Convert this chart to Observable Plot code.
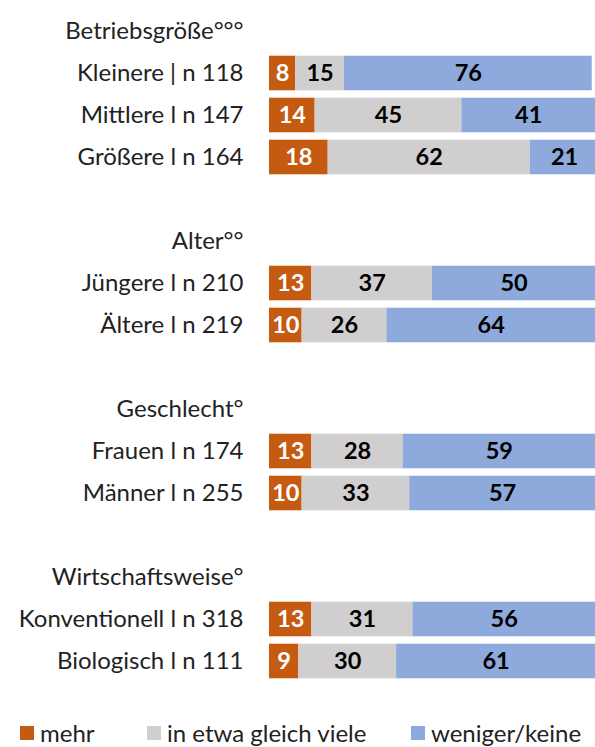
<!DOCTYPE html>
<html><head><meta charset="utf-8">
<script src="https://cdn.jsdelivr.net/npm/d3@7"></script>
<script src="https://cdn.jsdelivr.net/npm/@observablehq/plot@0.6"></script>
<style>
body{margin:0;background:#fff;font-family:Lato,"Open Sans",sans-serif;}
#wrap{position:relative;width:595px;height:747px;}
#legend{position:absolute;left:0;top:718px;width:595px;height:28px;font-size:24px;color:#222;}
#legend span.item{position:absolute;top:0;display:flex;align-items:center;white-space:nowrap;}
#legend span.sw{display:inline-block;width:14px;height:14px;margin-right:6px;}
</style></head>
<body><div id="wrap"><div id="chart"></div><div id="legend"></div></div>
<script>
const groupHeaders = ["Betriebsgröße°°°", "Alter°°", "Geschlecht°", "Wirtschaftsweise°"];
const categories = ["Kleinere | n 118", "Mittlere l n 147", "Größere l n 164",
  "Jüngere l n 210", "Ältere l n 219",
  "Frauen l n 174", "Männer l n 255",
  "Konventionell l n 318", "Biologisch l n 111"];
const categoryGroup = [0, 0, 0, 1, 1, 2, 2, 3, 3];
const seriesNames = ["mehr", "in etwa gleich viele", "weniger/keine"];
const mehr = [8, 14, 18, 13, 10, 13, 10, 13, 9];
const gleich = [15, 45, 62, 37, 26, 28, 33, 31, 30];
const weniger = [76, 41, 21, 50, 64, 59, 57, 56, 61];
const colors = ["#C55A11", "#D0CECE", "#8EA9DB"];
const textColors = ["#ffffff", "#000000", "#000000"];

// build band domain: header, items, spacer
const domain = [];
const labelOf = {};
groupHeaders.forEach((h, g) => {
  const hk = "h" + g; domain.push(hk); labelOf[hk] = h;
  categories.forEach((c, i) => { if (categoryGroup[i] === g) { domain.push(c); labelOf[c] = c; } });
  if (g < groupHeaders.length - 1) { const sk = "s" + g; domain.push(sk); labelOf[sk] = ""; }
});

const data = [];
categories.forEach((c, i) => {
  [mehr[i], gleich[i], weniger[i]].forEach((v, s) => data.push({cat: c, series: seriesNames[s], s, value: v}));
});

const rowStep = 42.47;
const marginTop = 6;
const height = Math.round(marginTop + rowStep * domain.length + 2);

const chart = Plot.plot({
  width: 595, height,
  marginLeft: 269, marginRight: 0, marginTop, marginBottom: height - marginTop - rowStep * domain.length,
  style: {fontFamily: "Lato, 'Open Sans', sans-serif", background: "#fff"},
  x: {domain: [0, 100], axis: null},
  y: {domain, padding: 0, label: null, axis: null},
  color: {domain: seriesNames, range: colors},
  marks: [
    Plot.barX(data, Plot.stackX({x: "value", y: "cat", fill: "series", insetTop: 3.7, insetBottom: 3.7, order: null})),
    Plot.text(data, Plot.stackX({x: "value", y: "cat", text: d => String(d.value), order: null,
      fill: d => textColors[d.s], fontSize: 23.5, fontWeight: "bold"})),
    Plot.axisY({tickSize: 0, tickPadding: 26, fontSize: 24, tickFormat: d => labelOf[d], label: null})
  ]
});
document.getElementById("chart").appendChild(chart);
chart.querySelectorAll("g[aria-label='y-axis tick label']").forEach(g => g.setAttribute("fill", "#222"));

const legend = document.getElementById("legend");
const lx = [20, 147, 411];
seriesNames.forEach((n, s) => {
  const it = document.createElement("span");
  it.className = "item"; it.style.left = lx[s] + "px";
  it.innerHTML = `<span class="sw" style="background:${colors[s]}"></span>${n}`;
  legend.appendChild(it);
});
</script></body></html>
